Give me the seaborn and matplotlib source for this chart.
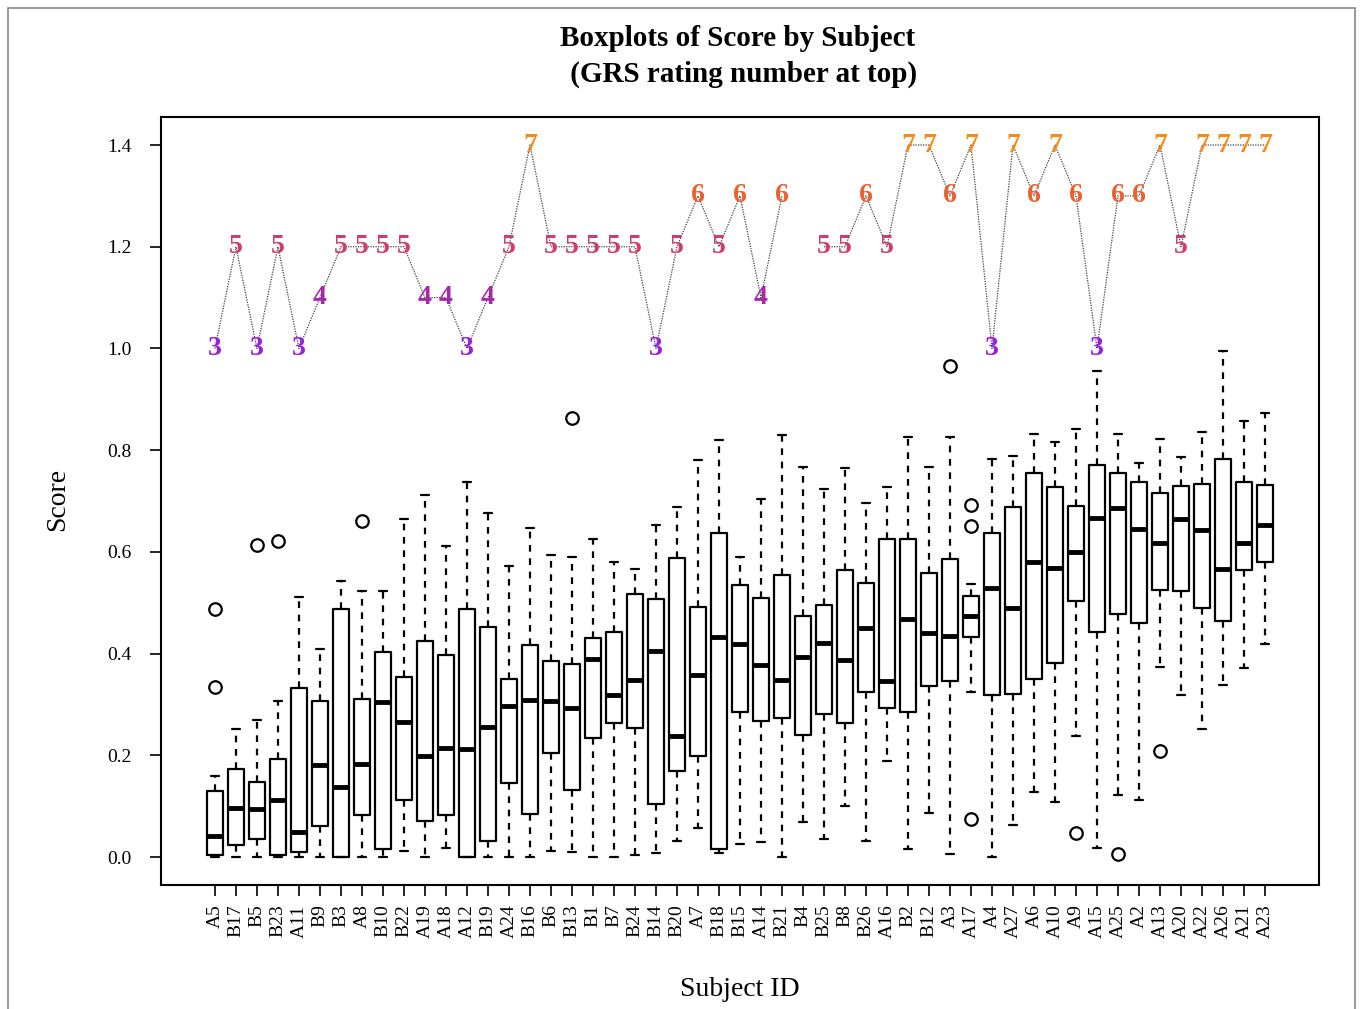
import numpy as np
import pandas as pd
import matplotlib
matplotlib.use("Agg")
import matplotlib.pyplot as plt
from matplotlib.patches import Rectangle
import seaborn as sns

# subjects, ordered by median score as in the original figure
subjects = ["A5", "B17", "B5", "B23", "A11", "B9", "B3", "A8", "B10", "B22",
            "A19", "A18", "A12", "B19", "A24", "B16", "B6", "B13", "B1", "B7",
            "B24", "B14", "B20", "A7", "B18", "B15", "A14", "B21", "B4", "B25",
            "B8", "B26", "A16", "B2", "B12", "A3", "A17", "A4", "A27", "A6",
            "A10", "A9", "A15", "A25", "A2", "A13", "A20", "A22", "A26", "A21",
            "A23"]

# box statistics
whis_lo = [0.0, 0.0, 0.0, 0.0, 0.0, 0.0, 0.0, 0.0, 0.0, 0.012,
           0.0, 0.018, 0.0, 0.0, 0.0, 0.0, 0.012, 0.009, 0.0, 0.0,
           0.004, 0.008, 0.031, 0.057, 0.007, 0.025, 0.029, 0.0, 0.069, 0.035,
           0.100, 0.032, 0.189, 0.016, 0.086, 0.006, 0.324, 0.0, 0.062, 0.128,
           0.108, 0.237, 0.017, 0.122, 0.113, 0.373, 0.319, 0.251, 0.338, 0.371,
           0.419]
q1 = [0.003, 0.024, 0.035, 0.003, 0.009, 0.061, 0.0, 0.082, 0.015, 0.113,
      0.071, 0.083, 0.0, 0.031, 0.145, 0.084, 0.204, 0.131, 0.235, 0.263,
      0.254, 0.105, 0.170, 0.199, 0.016, 0.286, 0.267, 0.274, 0.239, 0.281,
      0.264, 0.324, 0.294, 0.286, 0.337, 0.347, 0.432, 0.319, 0.321, 0.350,
      0.382, 0.504, 0.442, 0.478, 0.460, 0.526, 0.524, 0.489, 0.464, 0.565,
      0.580]
med = [0.041, 0.097, 0.094, 0.113, 0.049, 0.181, 0.138, 0.183, 0.304, 0.266,
       0.199, 0.215, 0.212, 0.255, 0.297, 0.309, 0.307, 0.294, 0.390, 0.318,
       0.348, 0.405, 0.238, 0.358, 0.433, 0.418, 0.377, 0.348, 0.394, 0.420,
       0.387, 0.451, 0.347, 0.469, 0.440, 0.435, 0.474, 0.529, 0.490, 0.581,
       0.569, 0.600, 0.666, 0.687, 0.644, 0.618, 0.665, 0.643, 0.566, 0.618,
       0.653]
q3 = [0.130, 0.173, 0.147, 0.193, 0.332, 0.306, 0.488, 0.310, 0.404, 0.353,
      0.425, 0.398, 0.487, 0.453, 0.351, 0.416, 0.386, 0.379, 0.430, 0.442,
      0.518, 0.508, 0.588, 0.492, 0.638, 0.534, 0.510, 0.554, 0.474, 0.495,
      0.564, 0.539, 0.625, 0.626, 0.559, 0.586, 0.513, 0.637, 0.688, 0.755,
      0.727, 0.690, 0.771, 0.755, 0.738, 0.715, 0.730, 0.733, 0.782, 0.737,
      0.731]
whis_hi = [0.160, 0.252, 0.269, 0.306, 0.512, 0.409, 0.543, 0.523, 0.523, 0.664,
           0.711, 0.611, 0.737, 0.676, 0.573, 0.646, 0.593, 0.589, 0.625, 0.580,
           0.566, 0.653, 0.689, 0.781, 0.820, 0.589, 0.703, 0.830, 0.767, 0.723,
           0.764, 0.696, 0.727, 0.826, 0.766, 0.826, 0.537, 0.782, 0.788, 0.831,
           0.817, 0.841, 0.956, 0.831, 0.775, 0.822, 0.786, 0.836, 0.995, 0.858,
           0.873]
outliers = {"A5": [0.488, 0.334], "B5": [0.613], "B23": [0.622], "A8": [0.661],
            "B13": [0.864], "A3": [0.966], "A17": [0.692, 0.651, 0.075],
            "A9": [0.047], "A25": [0.006], "A13": [0.209]}

# GRS rating per subject (B4 has none)
grs = [3, 5, 3, 5, 3, 4, 5, 5, 5, 5,
       4, 4, 3, 4, 5, 7, 5, 5, 5, 5,
       5, 3, 5, 6, 5, 6, 4, 6, np.nan, 5,
       5, 6, 5, 7, 7, 6, 7, 3, 7, 6,
       7, 6, 3, 6, 6, 7, 5, 7, 7, 7,
       7]
grs_colors = {3: "#9a1fe0", 4: "#a52aa8", 5: "#d23c68", 6: "#ea6231", 7: "#fb8a12"}

serif = ["Liberation Serif", "DejaVu Serif"]
sns.set_style("ticks")
plt.rcParams["font.family"] = serif
plt.rcParams["text.color"] = "black"
plt.rcParams["axes.labelcolor"] = "black"
plt.rcParams["xtick.color"] = "black"
plt.rcParams["ytick.color"] = "black"

fig = plt.figure(figsize=(13.63, 10.09), dpi=100)
ax = fig.add_axes([0.1181, 0.1229, 0.8496, 0.7611])

stats = []
for i, s in enumerate(subjects):
    stats.append({"label": s, "whislo": whis_lo[i], "q1": q1[i], "med": med[i],
                  "q3": q3[i], "whishi": whis_hi[i], "fliers": outliers.get(s, [])})

pos = np.arange(len(subjects))
ax.bxp(stats, positions=pos, widths=0.8, capwidths=0.4, patch_artist=False,
       boxprops=dict(color="black", linewidth=1.6),
       whiskerprops=dict(color="black", linewidth=1.6, linestyle=(0, (3, 3))),
       capprops=dict(color="black", linewidth=1.6),
       medianprops=dict(color="black", linewidth=3.5, solid_capstyle="butt"),
       flierprops=dict(marker="o", markersize=9, markerfacecolor="none",
                       markeredgecolor="black", markeredgewidth=1.6))

# GRS line on top: y = 0.7 + 0.1 * rating
gdf = pd.DataFrame({"x": pos, "grs": grs})
gdf["y"] = 0.7 + 0.1 * gdf["grs"]
gdf["seg"] = gdf["grs"].isna().cumsum()
gdf = gdf.dropna()
sns.lineplot(data=gdf, x="x", y="y", units="seg", estimator=None, ax=ax,
             color="#444444", linewidth=0.9, linestyle=(0, (1, 1)), zorder=3)
for _, r in gdf.iterrows():
    ax.text(r["x"], r["y"], str(int(r["grs"])), ha="center", va="center",
            fontsize=20, fontweight="bold", color=grs_colors[int(r["grs"])],
            zorder=4, family=serif)

ax.set_xlim(-2.57, 52.57)
ax.set_ylim(-0.055, 1.455)
ax.set_yticks(np.arange(0, 1.41, 0.2))
ax.set_yticklabels([f"{v:.1f}" for v in np.arange(0, 1.41, 0.2)])
ax.set_xticks(pos)
ax.set_xticklabels(subjects, rotation=90)
ax.tick_params(axis="both", direction="out", length=8, width=1.2, labelsize=14,
               colors="black")
ax.tick_params(axis="y", pad=13)
ax.tick_params(axis="x", pad=6)
for sp in ax.spines.values():
    sp.set_visible(True)
    sp.set_linewidth(1.5)
    sp.set_color("black")

ax.set_xlabel("")
ax.set_ylabel("")
fig.text(0.0425, 0.505, "Score", rotation=90, ha="center", va="center", fontsize=20)
fig.text(0.543, 0.019, "Subject ID", ha="center", va="center", fontsize=20)
fig.text(0.541, 0.962, "Boxplots of Score by Subject", ha="center", va="center",
         fontsize=21, fontweight="bold")
fig.text(0.543, 0.926, " (GRS rating number at top)", ha="center", va="center",
         fontsize=21, fontweight="bold")

fig.patches.append(Rectangle((8 / 1363, -0.05), 1347 / 1363, 1.05 - 8 / 1009,
                             transform=fig.transFigure, fill=False,
                             edgecolor="#888888", linewidth=1.2))

fig.savefig("out.png", dpi=100)
